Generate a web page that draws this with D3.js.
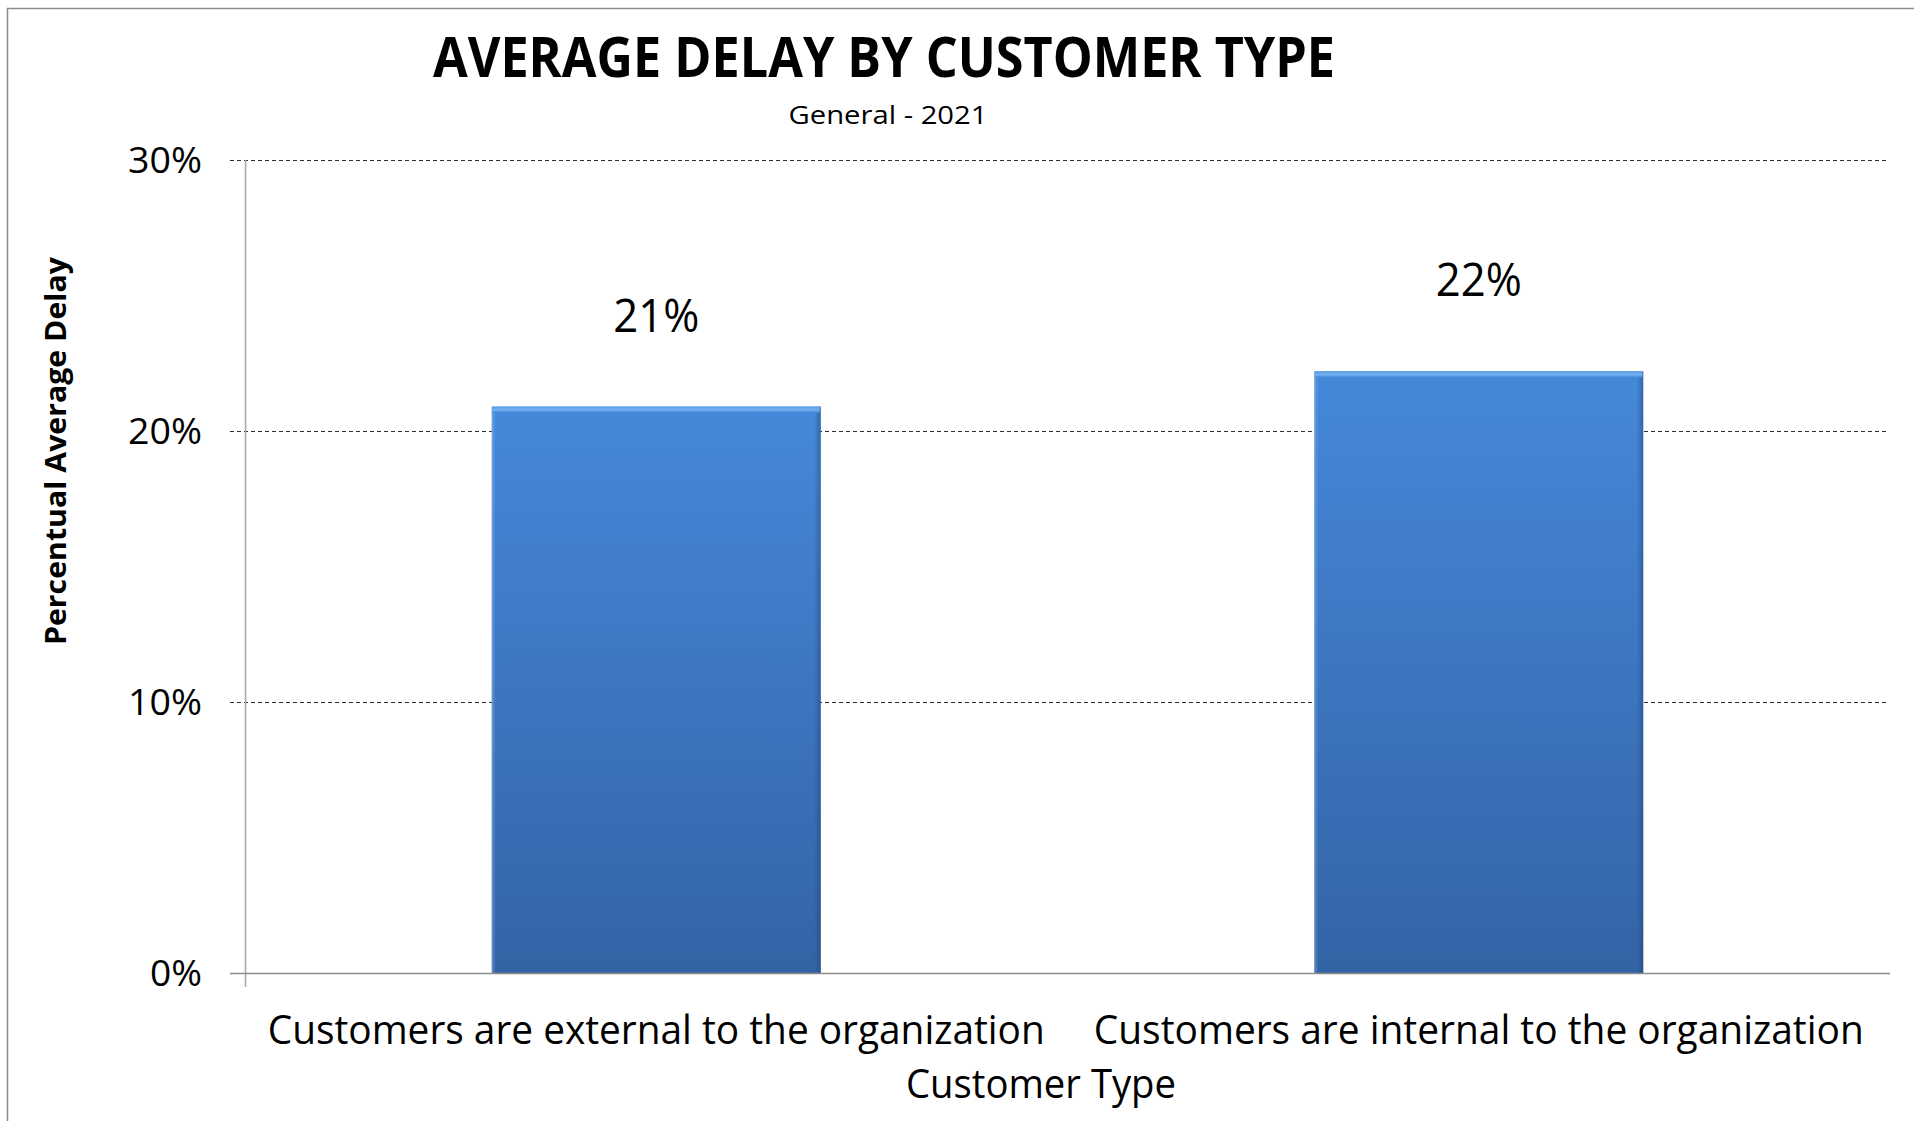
<!DOCTYPE html>
<html>
<head>
<meta charset="utf-8">
<script src="https://cdn.jsdelivr.net/npm/d3@7"></script>
<style>
  html, body { margin: 0; padding: 0; background: #fff; }
  svg { display: block; }
  text { font-family: "Open Sans", "DejaVu Sans", sans-serif; fill: #000; }
</style>
</head>
<body>
<svg id="chart" width="1914" height="1121"></svg>
<script>
// Chart data
const categories = [
  "Customers are external to the organization",
  "Customers are internal to the organization"
];
const delayValues = [0.209, 0.222];
const yTicks = [0, 0.1, 0.2, 0.3];

const titleText = "AVERAGE DELAY BY CUSTOMER TYPE";
const subtitleText = "General - 2021";
const xAxisTitle = "Customer Type";
const yAxisTitle = "Percentual Average Delay";

const svg = d3.select("#chart");
const W = 1914, H = 1121;
const plot = { left: 245, right: 1890, top: 160, bottom: 973 };

// Outer frame
svg.append("rect")
  .attr("x", 7.5).attr("y", 8.5)
  .attr("width", W).attr("height", H)
  .attr("fill", "#fff")
  .attr("stroke", "#8c8c8c").attr("stroke-width", 1.5);

const x = d3.scaleBand()
  .domain(categories)
  .range([plot.left, plot.right])
  .paddingInner(0.6)
  .paddingOuter(0.3);

const y = d3.scaleLinear()
  .domain([0, 0.3])
  .range([plot.bottom, plot.top]);

const pct = d3.format(".0%");

// Gradients for the bevelled bars
const defs = svg.append("defs");
const vGrad = defs.append("linearGradient")
  .attr("id", "barFill").attr("x1", 0).attr("y1", 0).attr("x2", 0).attr("y2", 1);
vGrad.append("stop").attr("offset", "0%").attr("stop-color", "#4588da");
vGrad.append("stop").attr("offset", "100%").attr("stop-color", "#3463a5");

const hGrad = defs.append("linearGradient")
  .attr("id", "barEdges").attr("x1", 0).attr("y1", 0).attr("x2", 1).attr("y2", 0);
hGrad.append("stop").attr("offset", "0%").attr("stop-color", "#9cc4f0").attr("stop-opacity", 0.45);
hGrad.append("stop").attr("offset", "1.2%").attr("stop-color", "#9cc4f0").attr("stop-opacity", 0);
hGrad.append("stop").attr("offset", "98%").attr("stop-color", "#1d3f70").attr("stop-opacity", 0);
hGrad.append("stop").attr("offset", "100%").attr("stop-color", "#1d3f70").attr("stop-opacity", 0.45);

const topGrad = defs.append("linearGradient")
  .attr("id", "barTop").attr("x1", 0).attr("y1", 0).attr("x2", 0).attr("y2", 1);
topGrad.append("stop").attr("offset", "0%").attr("stop-color", "#5a9de6");
topGrad.append("stop").attr("offset", "55%").attr("stop-color", "#74b2f2");
topGrad.append("stop").attr("offset", "100%").attr("stop-color", "#4588da");

// Horizontal dashed gridlines (with tick stubs on the left)
svg.append("g")
  .selectAll("line")
  .data(yTicks.filter(t => t > 0))
  .join("line")
  .attr("x1", plot.left - 15).attr("x2", plot.right - 2)
  .attr("y1", d => Math.round(y(d)) + 0.5).attr("y2", d => Math.round(y(d)) + 0.5)
  .attr("stroke", "#2e2e2e").attr("stroke-width", 1)
  .attr("stroke-dasharray", "4,3");

// Y axis line
svg.append("line")
  .attr("x1", plot.left + 0.5).attr("x2", plot.left + 0.5)
  .attr("y1", plot.top).attr("y2", plot.bottom + 14)
  .attr("stroke", "#a6a6a6").attr("stroke-width", 1.5);

// Y tick labels
svg.append("g")
  .selectAll("text")
  .data(yTicks)
  .join("text")
  .attr("x", 202)
  .attr("y", d => y(d))
  .attr("dy", "0.36em")
  .attr("text-anchor", "end")
  .attr("font-size", 37)
  .attr("textLength", d => d === 0 ? 52 : 74)
  .attr("lengthAdjust", "spacingAndGlyphs")
  .text(d => pct(d));

// Bars
const bars = svg.append("g")
  .selectAll("g")
  .data(categories.map((c, i) => ({ c, v: delayValues[i] })))
  .join("g");

bars.append("rect")
  .attr("x", d => x(d.c))
  .attr("y", d => y(d.v))
  .attr("width", x.bandwidth())
  .attr("height", d => y(0) - y(d.v))
  .attr("fill", "url(#barFill)");

bars.append("rect")
  .attr("x", d => x(d.c))
  .attr("y", d => y(d.v))
  .attr("width", x.bandwidth())
  .attr("height", d => y(0) - y(d.v))
  .attr("fill", "url(#barEdges)");

bars.append("rect")
  .attr("x", d => x(d.c) + 1)
  .attr("y", d => y(d.v))
  .attr("width", x.bandwidth() - 2)
  .attr("height", 6)
  .attr("fill", "url(#barTop)");

// Value labels
bars.append("text")
  .attr("x", d => x(d.c) + x.bandwidth() / 2)
  .attr("y", d => y(d.v) - 75)
  .attr("text-anchor", "middle")
  .attr("font-size", 46)
  .attr("textLength", 86)
  .attr("lengthAdjust", "spacingAndGlyphs")
  .text(d => pct(d.v));

// Baseline (0%) axis
svg.append("line")
  .attr("x1", plot.left - 15).attr("x2", plot.right)
  .attr("y1", plot.bottom + 0.5).attr("y2", plot.bottom + 0.5)
  .attr("stroke", "#8c8c8c").attr("stroke-width", 1.5);

// Category labels
const labelWidths = [777, 770];
svg.append("g")
  .selectAll("text")
  .data(categories)
  .join("text")
  .attr("x", d => x(d) + x.bandwidth() / 2)
  .attr("y", 1044)
  .attr("text-anchor", "middle")
  .attr("font-size", 40)
  .attr("textLength", (d, i) => labelWidths[i])
  .attr("lengthAdjust", "spacingAndGlyphs")
  .text(d => d);

// Axis titles
svg.append("text")
  .attr("x", 1041).attr("y", 1098)
  .attr("text-anchor", "middle")
  .attr("font-size", 40)
  .attr("textLength", 270)
  .attr("lengthAdjust", "spacingAndGlyphs")
  .text(xAxisTitle);

svg.append("text")
  .attr("transform", "translate(66,451) rotate(-90)")
  .attr("text-anchor", "middle")
  .attr("font-size", 28)
  .attr("font-weight", 700)
  .attr("textLength", 388)
  .attr("lengthAdjust", "spacingAndGlyphs")
  .text(yAxisTitle);

// Title and subtitle
svg.append("text")
  .attr("x", 884).attr("y", 77)
  .attr("text-anchor", "middle")
  .attr("font-size", 55)
  .attr("font-weight", 700)
  .attr("textLength", 902)
  .attr("lengthAdjust", "spacingAndGlyphs")
  .text(titleText);

svg.append("text")
  .attr("x", 888).attr("y", 124)
  .attr("text-anchor", "middle")
  .attr("font-size", 26)
  .attr("textLength", 199)
  .attr("lengthAdjust", "spacingAndGlyphs")
  .text(subtitleText);
</script>
</body>
</html>
